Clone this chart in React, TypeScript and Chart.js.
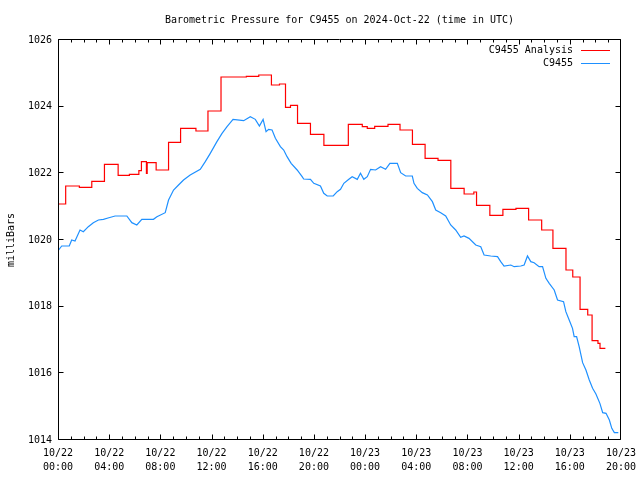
import React, { useEffect, useRef } from "react";
import { Chart, registerables } from "chart.js";

Chart.register(...registerables);

const TITLE = "Barometric Pressure for C9455 on 2024-Oct-22 (time in UTC)";
const Y_TITLE = "milliBars";
const SERIES_NAMES = ["C9455 Analysis", "C9455"];
const SERIES_COLORS = ["#ff0000", "#1e90ff"];

// x axis: hours since 2024-10-22 00:00 UTC
const X_MIN = 0;
const X_MAX = 44;
const X_STEP = 4;
const X_TICK_DATES = ["10/22", "10/22", "10/22", "10/22", "10/22", "10/22", "10/23", "10/23", "10/23", "10/23", "10/23", "10/23"];
const X_TICK_TIMES = ["00:00", "04:00", "08:00", "12:00", "16:00", "20:00", "00:00", "04:00", "08:00", "12:00", "16:00", "20:00"];

const Y_MIN = 1014;
const Y_MAX = 1026;
const Y_STEP = 2;

// Analysis (stepped) series: change points (value starts at that hour)
const analysisHours = [
  0.05, 0.6, 1.67, 2.64, 3.63, 4.7, 5.58, 6.32, 6.52, 6.91, 6.97, 7.67, 8.64, 9.58, 10.78, 11.72,
  12.74, 14.72, 15.69, 16.68, 17.31, 17.78, 18.17, 18.72, 19.73, 20.78, 22.69, 23.78, 24.17, 24.75,
  25.79, 26.73, 27.7, 28.69, 29.7, 30.7, 31.74, 32.5, 32.71, 33.75, 34.77, 35.79, 36.78, 37.8,
  38.68, 39.7, 40.23, 40.8, 41.4, 41.74, 42.2, 42.36, 42.78,
];
const analysisValues = [
  1021.08, 1021.62, 1021.58, 1021.76, 1022.27, 1021.94, 1021.97, 1022.08, 1022.35, 1022.0, 1022.32, 1022.1, 1022.93, 1023.35, 1023.27, 1023.87,
  1024.89, 1024.91, 1024.95, 1024.65, 1024.68, 1023.98, 1024.04, 1023.5, 1023.17, 1022.84, 1023.47, 1023.4, 1023.35, 1023.41,
  1023.47, 1023.3, 1022.87, 1022.45, 1022.39, 1021.55, 1021.38, 1021.44, 1021.04, 1020.74, 1020.92, 1020.95, 1020.6, 1020.3,
  1019.75, 1019.1, 1018.89, 1017.92, 1017.75, 1016.98, 1016.9, 1016.75, 1016.75,
];

// Station observations
const stationHours = [
  0.05, 0.29, 0.88, 1.07, 1.33, 1.72, 1.98, 2.37, 2.76, 3.16, 3.55, 3.91, 4.46, 5.38, 5.77, 6.16,
  6.55, 7.46, 7.73, 8.38, 8.64, 9.03, 9.42, 9.81, 10.33, 11.12, 11.51, 11.9, 12.42, 12.82, 13.21,
  13.68, 14.51, 15.03, 15.42, 15.74, 16.03, 16.26, 16.46, 16.73, 16.99, 17.38, 17.64, 17.9, 18.22,
  18.69, 19.08, 19.2, 19.73, 19.99, 20.51, 20.77, 21.04, 21.51, 21.82, 22.08, 22.34, 22.73, 22.99,
  23.39, 23.64, 23.9, 24.17, 24.43, 24.82, 25.21, 25.6, 25.94, 26.52, 26.78, 27.17, 27.69, 27.82,
  28.08, 28.47, 28.87, 29.26, 29.52, 29.91, 30.3, 30.69, 31.08, 31.47, 31.73, 32.12, 32.65, 33.04,
  33.3, 33.82, 34.35, 34.6, 34.86, 35.39, 35.65, 36.17, 36.43, 36.69, 36.95, 37.21, 37.6, 37.87,
  38.13, 38.39, 38.78, 39.04, 39.51, 39.69, 39.95, 40.21, 40.34, 40.53, 40.73, 41.0, 41.26, 41.52,
  41.78, 42.04, 42.35, 42.57, 42.83, 43.09, 43.28, 43.48, 43.79,
];
const stationValues = [
  1019.7, 1019.82, 1019.82, 1020.0, 1019.97, 1020.3, 1020.25, 1020.4, 1020.52, 1020.6, 1020.62, 1020.66, 1020.72, 1020.72, 1020.52, 1020.45,
  1020.62, 1020.62, 1020.7, 1020.82, 1021.2, 1021.5, 1021.65, 1021.8, 1021.95, 1022.12, 1022.35, 1022.6, 1022.95, 1023.2, 1023.4,
  1023.62, 1023.58, 1023.7, 1023.62, 1023.42, 1023.62, 1023.25, 1023.32, 1023.3, 1023.05, 1022.8, 1022.7, 1022.5, 1022.3,
  1022.1, 1021.9, 1021.83, 1021.82, 1021.7, 1021.62, 1021.4, 1021.32, 1021.32, 1021.45, 1021.52, 1021.7, 1021.82, 1021.9,
  1021.82, 1022.0, 1021.82, 1021.9, 1022.12, 1022.1, 1022.2, 1022.12, 1022.3, 1022.3, 1022.02, 1021.92, 1021.92, 1021.7,
  1021.55, 1021.42, 1021.35, 1021.15, 1020.9, 1020.82, 1020.72, 1020.45, 1020.3, 1020.08, 1020.12, 1020.05, 1019.85, 1019.8,
  1019.55, 1019.52, 1019.5, 1019.35, 1019.22, 1019.25, 1019.2, 1019.22, 1019.25, 1019.52, 1019.35, 1019.32, 1019.2, 1019.2,
  1018.85, 1018.7, 1018.5, 1018.2, 1018.15, 1017.85, 1017.6, 1017.35, 1017.1, 1017.1, 1016.8, 1016.32, 1016.1, 1015.8,
  1015.55, 1015.38, 1015.1, 1014.82, 1014.8, 1014.6, 1014.35, 1014.22, 1014.22,
];

const FONT_FAMILY = "'DejaVu Sans Mono', monospace";

const framePlugin = {
  id: "gnuplotFrame",
  afterDraw(chart: any) {
    const { ctx, chartArea: a, scales } = chart;
    const x = scales.x;
    const y = scales.y;
    const L = Math.round(a.left) + 0.5;
    const R = Math.round(a.right) - 0.5;
    const T = Math.round(a.top) - 0.5;
    const B = Math.round(a.bottom) - 0.5;
    ctx.save();
    ctx.strokeStyle = "#000";
    ctx.lineWidth = 1;
    ctx.beginPath();
    ctx.rect(L, T, R - L, B - T);
    for (let h = X_MIN; h <= X_MAX; h += 1) {
      const px = Math.min(Math.round(x.getPixelForValue(h)) + 0.5, R);
      const len = h % X_STEP === 0 ? 5 : 3;
      ctx.moveTo(px, B);
      ctx.lineTo(px, B - len);
      ctx.moveTo(px, T);
      ctx.lineTo(px, T + len);
    }
    for (let v = Y_MIN; v <= Y_MAX; v += Y_STEP) {
      const py = Math.round(y.getPixelForValue(v)) - 0.5;
      ctx.moveTo(L, py);
      ctx.lineTo(L + 5, py);
      ctx.moveTo(R, py);
      ctx.lineTo(R - 5, py);
    }
    ctx.stroke();

    ctx.fillStyle = "#000";
    ctx.font = `10px ${FONT_FAMILY}`;
    ctx.textBaseline = "middle";
    ctx.textAlign = "center";
    ctx.fillText(TITLE, (a.left + a.right) / 2, 20);

    ctx.textAlign = "right";
    for (let i = 0; i < SERIES_NAMES.length; i++) {
      const yy = a.top + 10.5 + i * 13;
      ctx.fillStyle = "#000";
      ctx.fillText(SERIES_NAMES[i], a.right - 48, yy);
      ctx.strokeStyle = SERIES_COLORS[i];
      ctx.beginPath();
      ctx.moveTo(a.right - 40, Math.round(yy) - 0.5);
      ctx.lineTo(a.right - 11, Math.round(yy) - 0.5);
      ctx.stroke();
    }
    ctx.restore();
  },
};

export default function App() {
  const ref = useRef<HTMLCanvasElement>(null);
  useEffect(() => {
    if (!ref.current) return;
    const chart = new Chart(ref.current, {
      type: "line",
      data: {
        datasets: [
          {
            label: SERIES_NAMES[0],
            data: analysisHours.map((h, i) => ({ x: h, y: analysisValues[i] })),
            borderColor: SERIES_COLORS[0],
            backgroundColor: SERIES_COLORS[0],
            borderWidth: 1.2,
            pointRadius: 0,
            stepped: "before",
            tension: 0,
          },
          {
            label: SERIES_NAMES[1],
            data: stationHours.map((h, i) => ({ x: h, y: stationValues[i] })),
            borderColor: SERIES_COLORS[1],
            backgroundColor: SERIES_COLORS[1],
            borderWidth: 1.2,
            pointRadius: 0,
            tension: 0,
          },
        ],
      },
      options: {
        animation: false,
        responsive: false,
        devicePixelRatio: 1,
        layout: { padding: { top: 40, right: 19, bottom: 0, left: 0 } },
        plugins: {
          legend: { display: false },
          title: { display: false },
          tooltip: { enabled: false },
        },
        scales: {
          x: {
            type: "linear",
            min: X_MIN,
            max: X_MAX,
            grid: { display: false, drawTicks: false },
            border: { display: false },
            ticks: {
              stepSize: X_STEP,
              autoSkip: false,
              maxRotation: 0,
              padding: 7,
              color: "#000",
              font: { family: FONT_FAMILY, size: 10, lineHeight: 1.35 },
              callback: (value: any) => {
                const idx = Math.round((Number(value) - X_MIN) / X_STEP);
                return [X_TICK_DATES[idx], X_TICK_TIMES[idx]];
              },
            },
            afterFit: (s: any) => {
              s.height = 40;
              s.paddingLeft = 0;
              s.paddingRight = 0;
            },
          },
          y: {
            type: "linear",
            min: Y_MIN,
            max: Y_MAX,
            grid: { display: false, drawTicks: false },
            border: { display: false },
            ticks: {
              stepSize: Y_STEP,
              padding: 6,
              color: "#000",
              font: { family: FONT_FAMILY, size: 10 },
              callback: (value: any) => String(value),
            },
            title: {
              display: true,
              text: Y_TITLE,
              color: "#000",
              font: { family: FONT_FAMILY, size: 10 },
              padding: { top: 5, bottom: 0 },
            },
            afterFit: (s: any) => {
              s.width = 58;
              s.paddingTop = 0;
              s.paddingBottom = 0;
            },
          },
        },
      },
      plugins: [framePlugin],
    });
    return () => chart.destroy();
  }, []);
  return (
    <div style={{ position: "absolute", left: 0, top: 0, width: 640, height: 480 }}>
      <canvas ref={ref} width={640} height={480} style={{ width: 640, height: 480 }} />
    </div>
  );
}
